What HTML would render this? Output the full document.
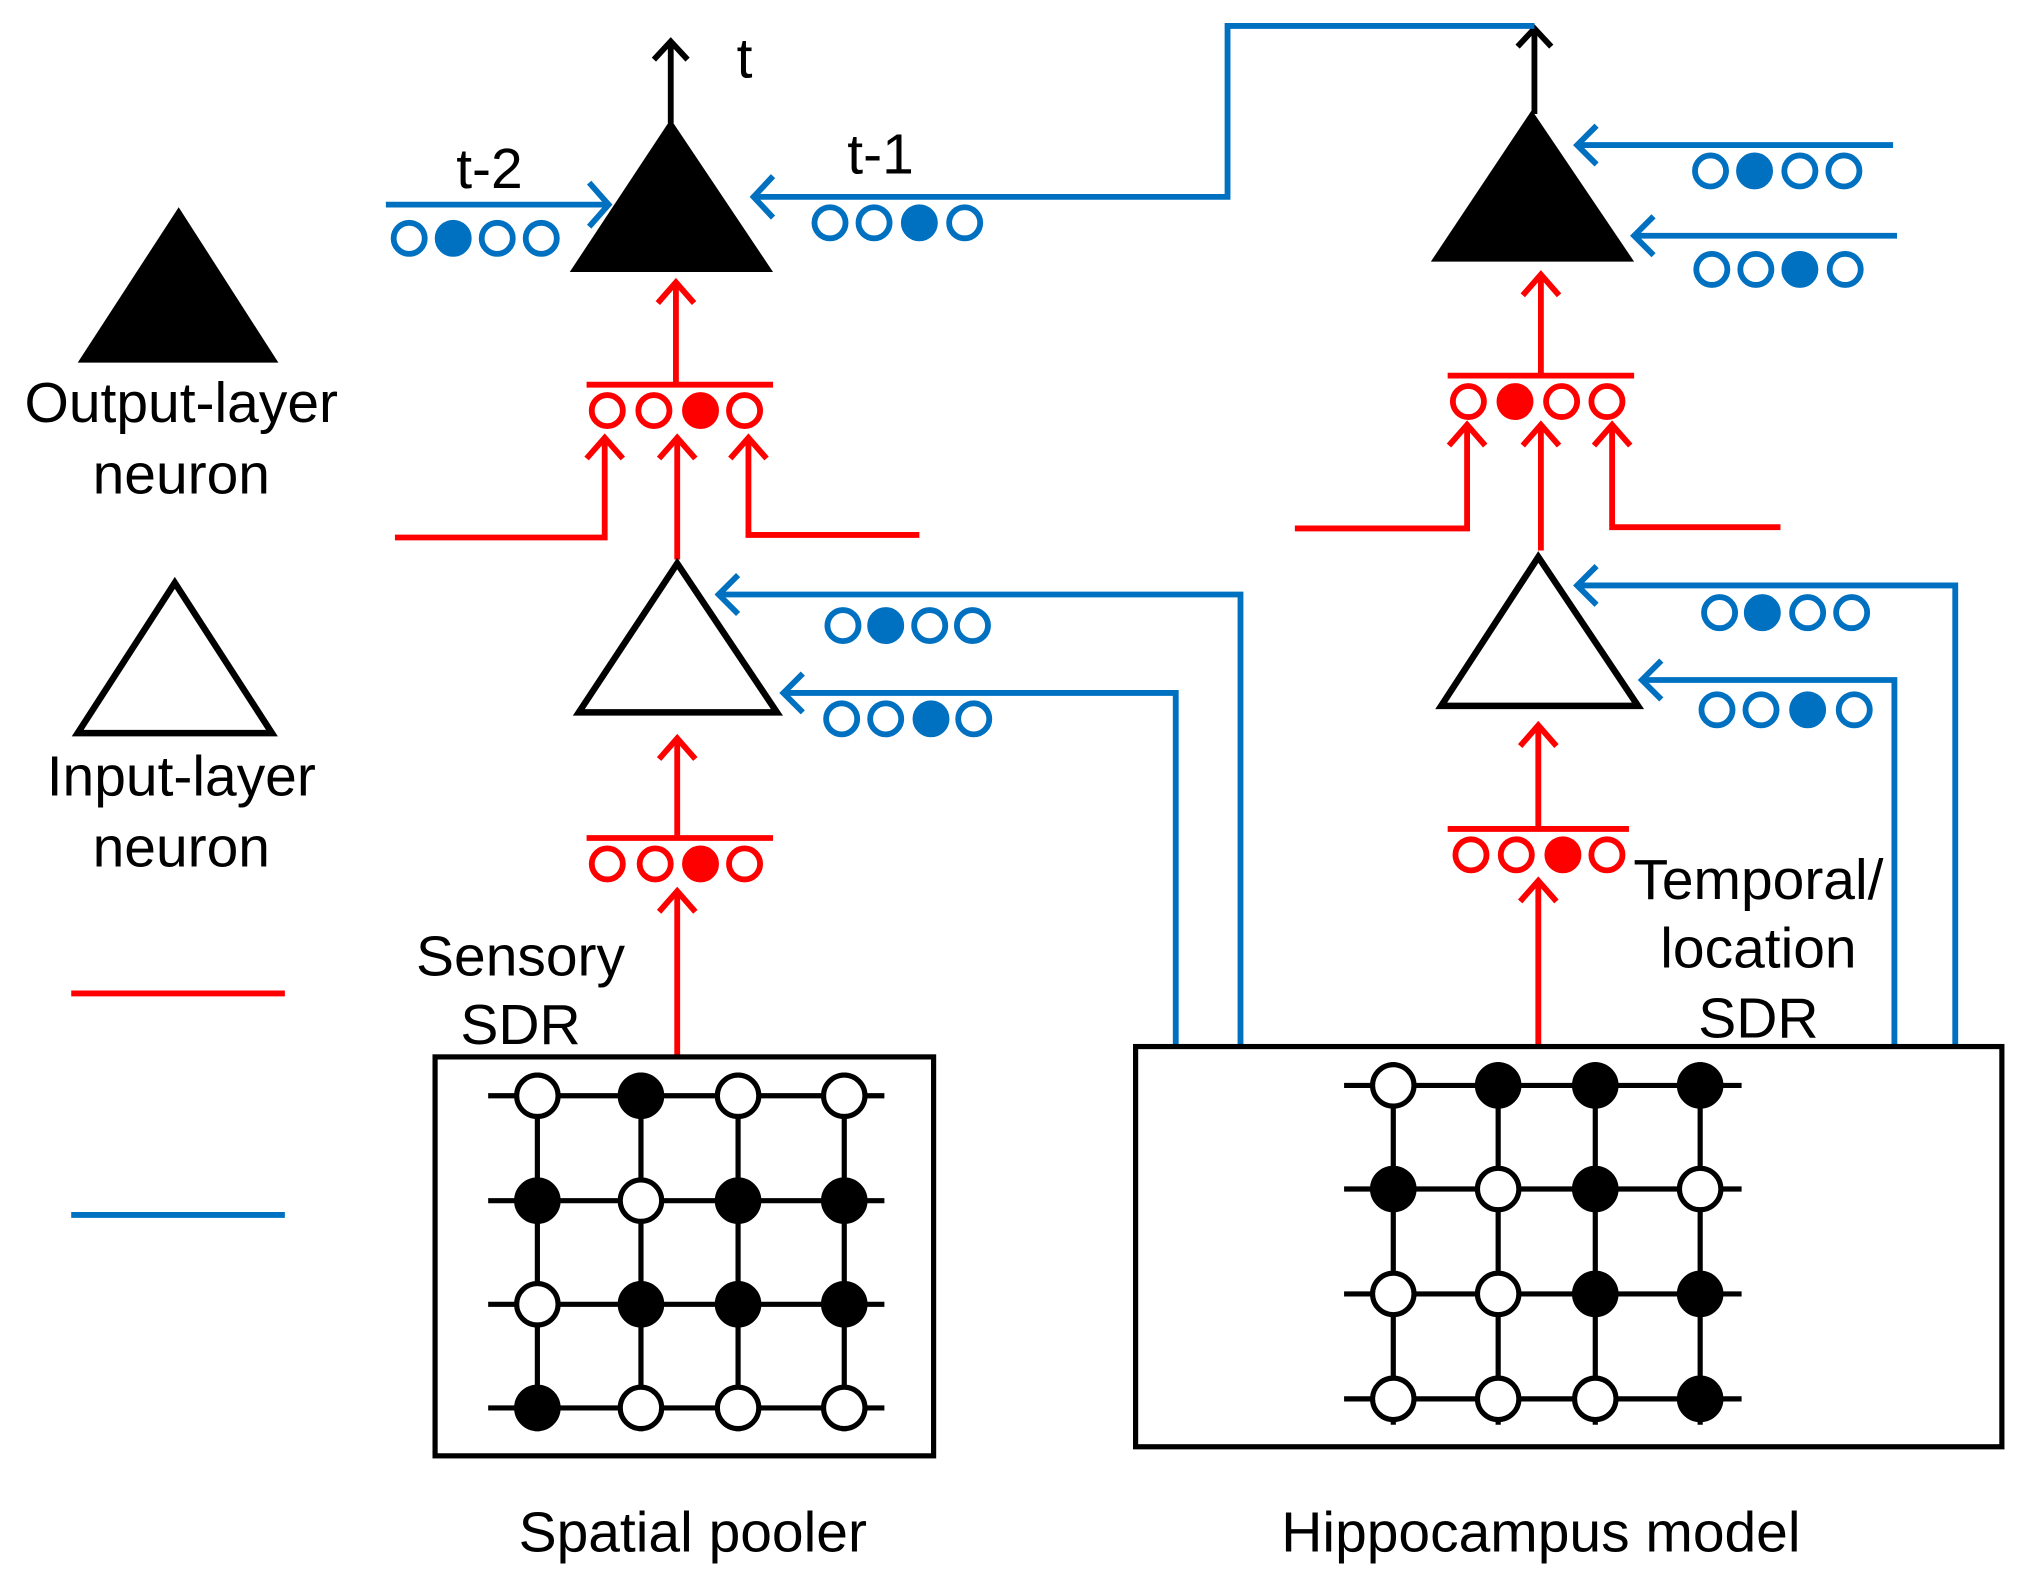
<!DOCTYPE html>
<html><head><meta charset="utf-8"><style>html,body{margin:0;padding:0;background:#fff}svg{display:block}</style></head><body>
<svg width="2020" height="1575" viewBox="0 0 1560 1216" preserveAspectRatio="none" xmlns="http://www.w3.org/2000/svg" font-family="Liberation Sans, sans-serif" font-size="44">
<rect width="1560" height="1216" fill="#fff"/>
<polygon points="60,280 138,160 215,280" fill="#000"/>
<text x="140" y="326" text-anchor="middle">Output-layer</text>
<text x="140" y="381" text-anchor="middle">neuron</text>
<polygon points="60,566 135,450 210,566" fill="none" stroke="#000" stroke-width="5"/>
<text x="140" y="614" text-anchor="middle">Input-layer</text>
<text x="140" y="669" text-anchor="middle">neuron</text>
<line x1="55" y1="767" x2="220" y2="767" stroke="#f00" stroke-width="4.5"/>
<line x1="55" y1="938" x2="220" y2="938" stroke="#0070C0" stroke-width="4.5"/>

<g fill="none" stroke-width="4.5">
<g stroke="#000">
<line x1="518" y1="95" x2="518" y2="32"/><polyline points="505,46 518,32 531,46"/>
<line x1="1185" y1="88" x2="1185" y2="22"/><polyline points="1172,36 1185,22 1198,36"/>
</g>
<g stroke="#0070C0">
<line x1="298" y1="158" x2="470" y2="158"/><polyline points="455,141 470,158 455,175"/>
<polyline points="582,152 948,152 948,20 1185,20"/><polyline points="597,136 582,152 597,168"/>
<polyline points="555,459 958,459 958,808"/><polyline points="570,444 555,459 570,474"/>
<polyline points="605,535 908,535 908,808"/><polyline points="620,520 605,535 620,550"/>
<line x1="1218" y1="112" x2="1462" y2="112"/><polyline points="1233,97 1218,112 1233,127"/>
<line x1="1262" y1="182" x2="1465" y2="182"/><polyline points="1277,167 1262,182 1277,197"/>
<polyline points="1218,452 1510,452 1510,808"/><polyline points="1233,437 1218,452 1233,467"/>
<polyline points="1268,525 1463,525 1463,808"/><polyline points="1283,510 1268,525 1283,540"/>
</g>
<g stroke="#f00">
<line x1="522" y1="295" x2="522" y2="218"/><polyline points="508,234 522,218 536,234"/>
<line x1="453" y1="297" x2="597" y2="297"/>
<polyline points="305,415 467,415 467,338"/><polyline points="453,354 467,338 481,354"/>
<line x1="523" y1="432" x2="523" y2="338"/><polyline points="509,354 523,338 537,354"/>
<polyline points="710,413 578,413 578,338"/><polyline points="564,354 578,338 592,354"/>
<line x1="523" y1="645" x2="523" y2="570"/><polyline points="509,586 523,570 537,586"/>
<line x1="453" y1="647" x2="597" y2="647"/>
<line x1="523" y1="815" x2="523" y2="688"/><polyline points="509,704 523,688 537,704"/>
<line x1="1190" y1="290" x2="1190" y2="212"/><polyline points="1176,228 1190,212 1204,228"/>
<line x1="1118" y1="290" x2="1262" y2="290"/>
<polyline points="1000,408 1133,408 1133,328"/><polyline points="1119,344 1133,328 1147,344"/>
<line x1="1190" y1="425" x2="1190" y2="328"/><polyline points="1176,344 1190,328 1204,344"/>
<polyline points="1375,407 1245,407 1245,328"/><polyline points="1231,344 1245,328 1259,344"/>
<line x1="1188" y1="638" x2="1188" y2="560"/><polyline points="1174,576 1188,560 1202,576"/>
<line x1="1118" y1="640" x2="1258" y2="640"/>
<line x1="1188" y1="808" x2="1188" y2="680"/><polyline points="1174,696 1188,680 1202,696"/>
</g>
</g>
<polygon points="440,210 518,92 597,210" fill="#000"/>
<polygon points="1105,202 1183,85 1262,202" fill="#000"/>
<polygon points="447,550 523,435 600,550" fill="#fff" stroke="#000" stroke-width="5"/>
<polygon points="1113,545 1188,430 1265,545" fill="#fff" stroke="#000" stroke-width="5"/>

<g stroke="#0070C0" stroke-width="4.5" fill="#fff">
<circle cx="316" cy="184" r="12"/><circle cx="350" cy="184" r="12" fill="#0070C0"/><circle cx="384" cy="184" r="12"/><circle cx="418" cy="184" r="12"/>
<circle cx="641" cy="172" r="12"/><circle cx="675" cy="172" r="12"/><circle cx="710" cy="172" r="12" fill="#0070C0"/><circle cx="745" cy="172" r="12"/>
<circle cx="651" cy="483" r="12"/><circle cx="684" cy="483" r="12" fill="#0070C0"/><circle cx="718" cy="483" r="12"/><circle cx="751" cy="483" r="12"/>
<circle cx="650" cy="555" r="12"/><circle cx="684" cy="555" r="12"/><circle cx="719" cy="555" r="12" fill="#0070C0"/><circle cx="752" cy="555" r="12"/>
<circle cx="1321" cy="132" r="12"/><circle cx="1355" cy="132" r="12" fill="#0070C0"/><circle cx="1390" cy="132" r="12"/><circle cx="1424" cy="132" r="12"/>
<circle cx="1322" cy="208" r="12"/><circle cx="1356" cy="208" r="12"/><circle cx="1390" cy="208" r="12" fill="#0070C0"/><circle cx="1425" cy="208" r="12"/>
<circle cx="1328" cy="473" r="12"/><circle cx="1361" cy="473" r="12" fill="#0070C0"/><circle cx="1396" cy="473" r="12"/><circle cx="1430" cy="473" r="12"/>
<circle cx="1326" cy="548" r="12"/><circle cx="1360" cy="548" r="12"/><circle cx="1396" cy="548" r="12" fill="#0070C0"/><circle cx="1432" cy="548" r="12"/>
</g>
<g stroke="#f00" stroke-width="4.5" fill="#fff">
<circle cx="469" cy="317" r="12"/><circle cx="505" cy="317" r="12"/><circle cx="541" cy="317" r="12" fill="#f00"/><circle cx="575" cy="317" r="12"/>
<circle cx="469" cy="667" r="12"/><circle cx="506" cy="667" r="12"/><circle cx="541" cy="667" r="12" fill="#f00"/><circle cx="575" cy="667" r="12"/>
<circle cx="1134" cy="310" r="12"/><circle cx="1170" cy="310" r="12" fill="#f00"/><circle cx="1206" cy="310" r="12"/><circle cx="1241" cy="310" r="12"/>
<circle cx="1136" cy="660" r="12"/><circle cx="1171" cy="660" r="12"/><circle cx="1207" cy="660" r="12" fill="#f00"/><circle cx="1241" cy="660" r="12"/>
</g>

<rect x="336" y="816" width="385" height="308" fill="none" stroke="#000" stroke-width="4"/>
<rect x="877" y="808" width="669" height="309" fill="none" stroke="#000" stroke-width="4"/>
<g stroke="#000" stroke-width="4">
<line x1="377" y1="846" x2="683" y2="846"/><line x1="377" y1="927" x2="683" y2="927"/><line x1="377" y1="1007" x2="683" y2="1007"/><line x1="377" y1="1087" x2="683" y2="1087"/>
<line x1="415" y1="828" x2="415" y2="1105"/><line x1="495" y1="828" x2="495" y2="1105"/><line x1="570" y1="828" x2="570" y2="1105"/><line x1="652" y1="828" x2="652" y2="1105"/>
<line x1="1038" y1="838" x2="1345" y2="838"/><line x1="1038" y1="918" x2="1345" y2="918"/><line x1="1038" y1="999" x2="1345" y2="999"/><line x1="1038" y1="1080" x2="1345" y2="1080"/>
<line x1="1076" y1="820" x2="1076" y2="1100"/><line x1="1157" y1="820" x2="1157" y2="1100"/><line x1="1232" y1="820" x2="1232" y2="1100"/><line x1="1313" y1="820" x2="1313" y2="1100"/>
</g>
<g stroke="#000" stroke-width="4" fill="#fff">
<circle cx="415" cy="846" r="16"/><circle cx="495" cy="846" r="16" fill="#000"/><circle cx="570" cy="846" r="16"/><circle cx="652" cy="846" r="16"/>
<circle cx="415" cy="927" r="16" fill="#000"/><circle cx="495" cy="927" r="16"/><circle cx="570" cy="927" r="16" fill="#000"/><circle cx="652" cy="927" r="16" fill="#000"/>
<circle cx="415" cy="1007" r="16"/><circle cx="495" cy="1007" r="16" fill="#000"/><circle cx="570" cy="1007" r="16" fill="#000"/><circle cx="652" cy="1007" r="16" fill="#000"/>
<circle cx="415" cy="1087" r="16" fill="#000"/><circle cx="495" cy="1087" r="16"/><circle cx="570" cy="1087" r="16"/><circle cx="652" cy="1087" r="16"/>
<circle cx="1076" cy="838" r="16"/><circle cx="1157" cy="838" r="16" fill="#000"/><circle cx="1232" cy="838" r="16" fill="#000"/><circle cx="1313" cy="838" r="16" fill="#000"/>
<circle cx="1076" cy="918" r="16" fill="#000"/><circle cx="1157" cy="918" r="16"/><circle cx="1232" cy="918" r="16" fill="#000"/><circle cx="1313" cy="918" r="16"/>
<circle cx="1076" cy="999" r="16"/><circle cx="1157" cy="999" r="16"/><circle cx="1232" cy="999" r="16" fill="#000"/><circle cx="1313" cy="999" r="16" fill="#000"/>
<circle cx="1076" cy="1080" r="16"/><circle cx="1157" cy="1080" r="16"/><circle cx="1232" cy="1080" r="16"/><circle cx="1313" cy="1080" r="16" fill="#000"/>
</g>

<text x="575" y="60" text-anchor="middle">t</text>
<text x="378" y="145" text-anchor="middle">t-2</text>
<text x="680" y="134" text-anchor="middle">t-1</text>
<text x="402" y="753" text-anchor="middle">Sensory</text>
<text x="402" y="806" text-anchor="middle">SDR</text>
<text x="1358" y="694" text-anchor="middle">Temporal/</text>
<text x="1358" y="747" text-anchor="middle">location</text>
<text x="1358" y="801" text-anchor="middle">SDR</text>
<text x="535" y="1198" text-anchor="middle">Spatial pooler</text>
<text x="1190" y="1198" text-anchor="middle">Hippocampus model</text>
</svg>
</body></html>
